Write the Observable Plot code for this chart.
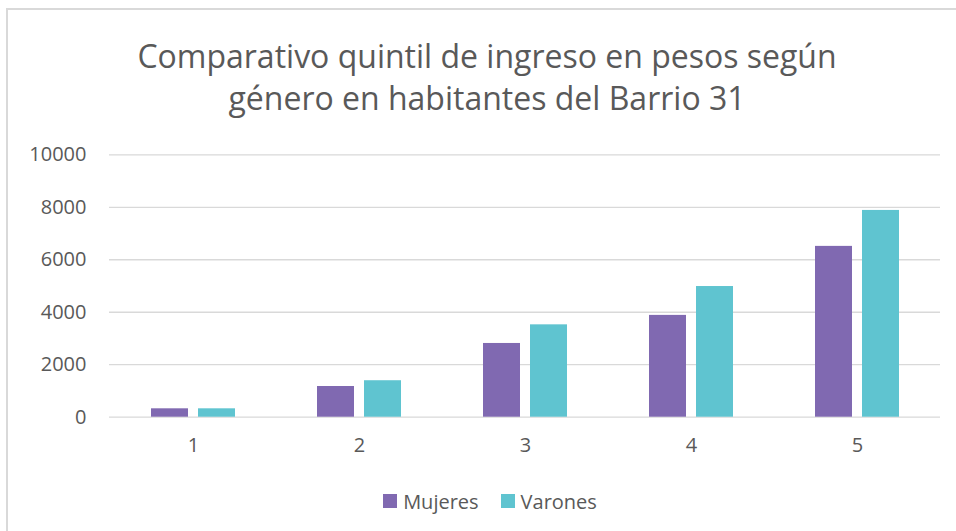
<!DOCTYPE html>
<html>
<head>
<meta charset="utf-8">
<script src="https://cdn.jsdelivr.net/npm/d3@7"></script>
<script src="https://cdn.jsdelivr.net/npm/@observablehq/plot@0.6"></script>
<style>
  html, body { margin: 0; padding: 0; background: #fff; }
  #wrap { position: relative; width: 956px; height: 531px; overflow: hidden; font-family: "Open Sans", sans-serif; color: #595959; }
  #frame { position: absolute; left: 6px; top: 8px; width: 1200px; height: 800px; border-top: 2px solid #d9d9d9; border-left: 2px solid #d9d9d9; box-sizing: border-box; }
  #title { position: relative; height: 140px; box-sizing: border-box; padding-top: 35px; padding-left: 18px; text-align: center; font-size: 32px; line-height: 42px; }
  #chart { position: relative; height: 330px; }
  #chart svg { display: block; }
  #legend { position: relative; display: flex; justify-content: center; align-items: center; height: 62px; padding-left: 24px; box-sizing: border-box; font-size: 20px; }
  .item { display: flex; align-items: center; margin: 0 11px; }
  .sw { width: 14px; height: 14px; margin-right: 6px; }
</style>
</head>
<body>
<div id="wrap">
  <div id="frame"></div>
  <div id="title"></div>
  <div id="chart"></div>
  <div id="legend"></div>
</div>
<script>
const titleLines = ["Comparativo quintil de ingreso en pesos según", "género en habitantes del Barrio 31"];
const quintiles = ["1", "2", "3", "4", "5"];
const series = ["Mujeres", "Varones"];
const mujeres = [320, 1170, 2810, 3880, 6510];
const varones = [320, 1390, 3520, 4980, 7880];
const yTicks = [0, 2000, 4000, 6000, 8000, 10000];
const colors = ["#8069b1", "#5fc4d0"];

const values = [mujeres, varones];
const rows = series.map((s, j) => quintiles.map((q, i) => ({q, s, v: values[j][i]})));

document.getElementById("title").innerHTML = titleLines.join("<br>");

// bar styling: insets inside each quintile band (band width ~166px)
const outerInset = 41;
const innerInset = 88;

const chart = Plot.plot({
  width: 956,
  height: 330,
  marginLeft: 109,
  marginRight: 16,
  marginTop: 14.3,
  marginBottom: 53.3,
  style: {fontFamily: "Open Sans, sans-serif", fontSize: "20px", color: "#595959", background: "transparent"},
  x: {domain: quintiles, padding: 0, label: null},
  y: {domain: [0, 10000], label: null},
  color: {domain: series, range: colors},
  marks: [
    Plot.ruleY(yTicks, {y: d => d, stroke: "#d9d9d9", strokeWidth: 1.3}),
    Plot.axisY(yTicks, {tickSize: 0, tickPadding: 23, tickFormat: d => String(d), fill: "#595959", label: null}),
    Plot.axisX({tickSize: 0, tickPadding: 21, fill: "#595959", label: null}),
    Plot.barY(rows[0], {x: "q", y: "v", fill: "s", insetLeft: outerInset, insetRight: innerInset}),
    Plot.barY(rows[1], {x: "q", y: "v", fill: "s", insetLeft: innerInset, insetRight: outerInset})
  ]
});
document.getElementById("chart").appendChild(chart);

const legend = document.getElementById("legend");
series.forEach((s, i) => {
  const it = document.createElement("div");
  it.className = "item";
  it.innerHTML = `<div class="sw" style="background:${colors[i]}"></div><span>${s}</span>`;
  legend.appendChild(it);
});
</script>
</body>
</html>
